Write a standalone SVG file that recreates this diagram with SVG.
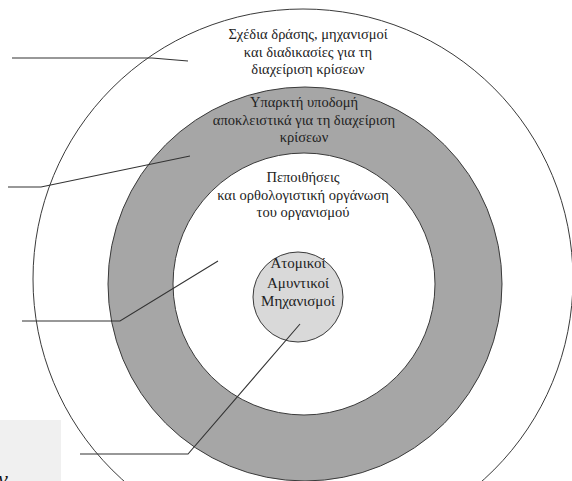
<svg xmlns="http://www.w3.org/2000/svg" width="572" height="481" viewBox="0 0 572 481">
<style>
.ring{stroke:#3a3a3a;stroke-width:1}
.t{font-family:"Liberation Serif","DejaVu Serif",serif;font-size:14.5px;fill:#222;text-anchor:middle}
.s{font-size:15px}
.c{fill:none;stroke:#333;stroke-width:1.1}
</style>
<rect width="572" height="481" fill="#fff"/>
<rect x="0" y="420" width="61" height="61" fill="#f0f0f0"/>
<text x="-2" y="486" font-family="Liberation Serif, serif" font-style="italic" font-size="22" fill="#111">ν</text>
<g id="outer">
<circle class="ring" cx="303" cy="279" r="270" fill="#fff"/>
<text class="t" x="308" y="39">Σχέδια δράσης, μηχανισμοί</text>
<text class="t" x="308" y="57">και διαδικασίες για τη</text>
<text class="t" x="308" y="74">διαχείριση κρίσεων</text>
</g>
<g id="infrastructure">
<circle class="ring" cx="305" cy="284" r="197" fill="#a6a6a6"/>
<text class="t" x="304" y="107">Υπαρκτή υποδομή</text>
<text class="t" x="304" y="125">αποκλειστικά για τη διαχείριση</text>
<text class="t" x="304" y="142">κρίσεων</text>
</g>
<g id="beliefs">
<circle class="ring" cx="304" cy="284" r="131" fill="#fff"/>
<text class="t" x="303" y="182">Πεποιθήσεις</text>
<text class="t" x="303" y="200">και ορθολογιστική οργάνωση</text>
<text class="t" x="303" y="217">του οργανισμού</text>
</g>
<g id="defense">
<circle class="ring" cx="298" cy="297" r="45" fill="#d9d9d9"/>
<text class="t s" x="298" y="268">Ατομικοί</text>
<text class="t s" x="298" y="288">Αμυντικοί</text>
<text class="t s" x="298" y="306">Μηχανισμοί</text>
</g>
<g id="connectors">
<polyline class="c" points="12,58 152,58 188,61"/>
<polyline class="c" points="8,187 41,187 190,156"/>
<polyline class="c" points="22,321 120,321 218,261"/>
<polyline class="c" points="80,454 188,454 300,324"/>
</g>
</svg>
